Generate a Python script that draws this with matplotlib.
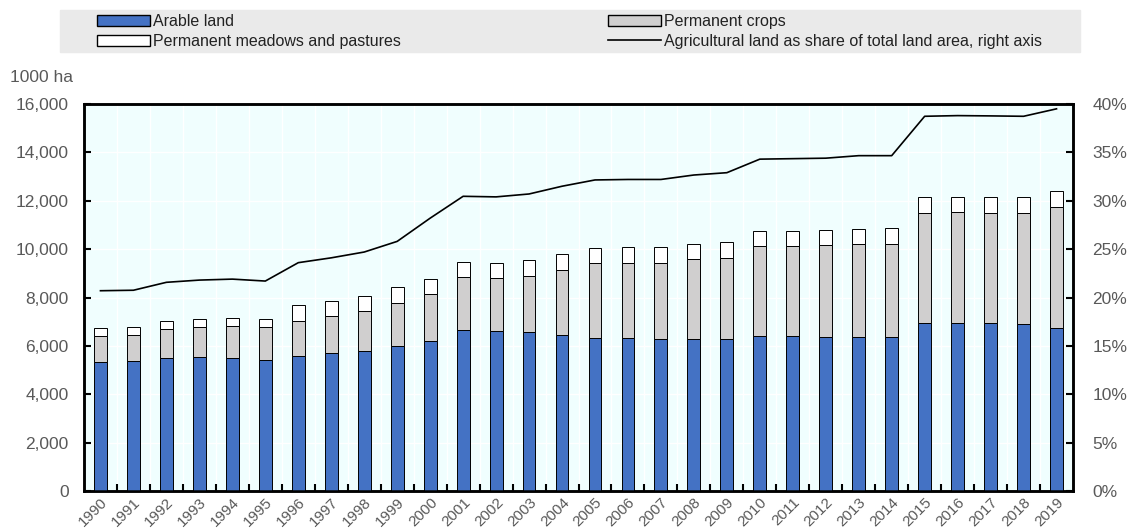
import matplotlib
matplotlib.use("Agg")
import matplotlib.pyplot as plt
import numpy as np
from matplotlib.patches import Patch
from matplotlib.lines import Line2D
from matplotlib.ticker import FuncFormatter, FixedLocator

plt.rcParams['font.family'] = ['Liberation Sans Narrow', 'Liberation Sans', 'DejaVu Sans']

years = list(range(1990, 2020))

# thousand hectares
arable = [5351, 5392, 5516, 5530, 5488, 5433, 5571, 5695, 5778, 6012,
          6219, 6661, 6619, 6578, 6449, 6339, 6339, 6298, 6270, 6270,
          6408, 6408, 6380, 6380, 6380, 6959, 6959, 6959, 6917, 6752]
perm_crops = [1048, 1048, 1200, 1255, 1352, 1338, 1448, 1531, 1655, 1779,
              1945, 2172, 2173, 2310, 2687, 3073, 3100, 3114, 3307, 3362,
              3707, 3707, 3776, 3831, 3831, 4533, 4561, 4547, 4562, 4988]
meadows = [358, 345, 331, 317, 331, 345, 690, 648, 648, 662,
           614, 648, 647, 648, 649, 634, 634, 661, 648, 648,
           620, 647, 620, 634, 648, 648, 648, 662, 661, 649]

# % of total land area
share = [20.7, 20.75, 21.57, 21.8, 21.9, 21.7, 23.6, 24.1, 24.7, 25.8,
         28.2, 30.46, 30.4, 30.7, 31.5, 32.15, 32.2, 32.2, 32.66, 32.9,
         34.3, 34.35, 34.4, 34.66, 34.66, 38.73, 38.8, 38.77, 38.73, 39.5]

labels = ['Arable land', 'Permanent crops', 'Permanent meadows and pastures',
          'Agricultural land as share of total land area, right axis']
colors = ['#4472C4', '#D0CFCF', '#FFFFFF']
txt_grey = '#595959'

W, H = 1128, 529
fig = plt.figure(figsize=(W / 100, H / 100), dpi=100)
ax = fig.add_axes([84 / W, 1 - 491 / H, 989 / W, 387 / H])
ax2 = ax.twinx()

x = np.arange(len(years))
arable = np.array(arable)
perm_crops = np.array(perm_crops)
meadows = np.array(meadows)
w = 0.39
ax.set_facecolor('#F0FEFE')
ax.bar(x, arable, w, color=colors[0], edgecolor='black', linewidth=0.7, zorder=3)
ax.bar(x, perm_crops, w, bottom=arable, color=colors[1], edgecolor='black',
       linewidth=0.7, zorder=3)
ax.bar(x, meadows, w, bottom=arable + perm_crops, color=colors[2],
       edgecolor='black', linewidth=0.7, zorder=3)

ax2.plot(x, share, color='black', linewidth=1.2)

ax.set_xlim(-0.5, len(years) - 0.5)
ax.set_ylim(0, 16000)
ax2.set_ylim(0, 40)
ax.set_yticks(np.arange(0, 16001, 2000))
ax2.set_yticks(np.arange(0, 41, 5))
ax.yaxis.set_major_formatter(FuncFormatter(lambda v, p: f'{int(v):,}'))
ax2.yaxis.set_major_formatter(FuncFormatter(lambda v, p: f'{int(v)}%'))

ax.set_xticks(x)
ax.set_xticklabels([str(y) for y in years], rotation=45, ha='right',
                   rotation_mode='anchor', color=txt_grey, fontsize=11)
ax.xaxis.set_minor_locator(FixedLocator(x[:-1] + 0.5))
ax.tick_params(axis='x', which='major', length=0, pad=3)
ax.tick_params(axis='x', which='minor', direction='in', length=5, width=1.5)
ax.tick_params(axis='y', direction='in', length=5, width=1.5,
               labelsize=12.5, labelcolor=txt_grey, pad=11)
ax2.tick_params(axis='y', direction='in', length=5, width=1.5,
                labelsize=12.5, labelcolor=txt_grey, pad=14)

ax.grid(True, axis='y', color='white', linewidth=1, zorder=0)
ax.grid(True, axis='x', which='minor', color='white', linewidth=1, zorder=0)
for a in (ax, ax2):
    for s in a.spines.values():
        s.set_linewidth(1.8)
ax.set_axisbelow(True)

fig.text(10 / W, 1 - 77 / H, '1000 ha', fontsize=12.5, color=txt_grey,
         va='center', ha='left')

# legend on grey band
fig.patches.append(plt.Rectangle((60 / W, 1 - 52 / H), 1020 / W, 42 / H,
                                 transform=fig.transFigure, color='#EAEAEA',
                                 zorder=0))
col1 = [Patch(facecolor=colors[0], edgecolor='black', linewidth=1),
        Patch(facecolor=colors[2], edgecolor='black', linewidth=1)]
col2 = [Patch(facecolor=colors[1], edgecolor='black', linewidth=1),
        Line2D([0], [0], color='black', linewidth=1.2)]
leg_kw = dict(loc='upper left', frameon=False, fontsize=11.5,
              handlelength=3.3, handleheight=0.75, handletextpad=0.2,
              labelspacing=0.32, borderpad=0, borderaxespad=0,
              labelcolor='#222222')
fig.legend(col1, [labels[0], labels[2]],
           bbox_to_anchor=(97 / W, 1 - 14 / H), **leg_kw)
fig.legend(col2, [labels[1], labels[3]],
           bbox_to_anchor=(608 / W, 1 - 14 / H), **leg_kw)

fig.savefig('out.png', dpi=100)
